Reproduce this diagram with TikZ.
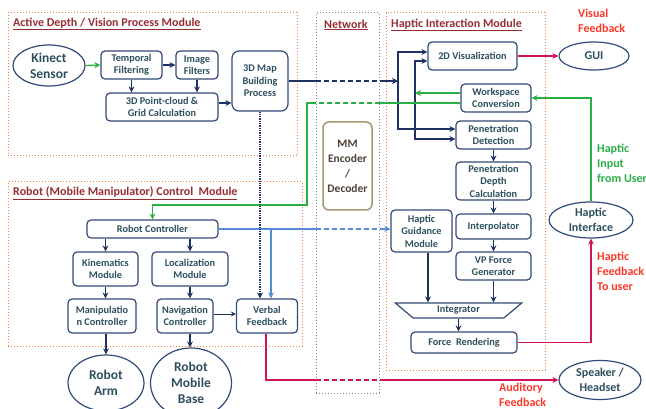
\documentclass[tikz,border=0pt]{standalone}
\usepackage{fontspec}
\setmainfont{Carlito}
\usepackage{tikz}
\usetikzlibrary{arrows.meta,positioning,shapes.geometric}
\definecolor{boxblue}{RGB}{50,74,118}
\definecolor{lineblue}{RGB}{30,50,100}
\definecolor{boxtext}{RGB}{45,80,95}
\definecolor{frameorange}{RGB}{238,128,60}
\definecolor{titlered}{RGB}{150,45,50}
\definecolor{netgrey}{RGB}{135,135,135}
\definecolor{mmolive}{RGB}{165,152,110}
\definecolor{mmtext}{RGB}{75,65,55}
\definecolor{linkgreen}{RGB}{40,175,70}
\definecolor{linkblue}{RGB}{85,140,215}
\definecolor{linkred}{RGB}{205,20,90}
\definecolor{labelred}{RGB}{250,55,40}
\tikzset{
  hbox/.style={rectangle, rounded corners=4pt, draw=boxblue, line width=1.2pt, fill=white,
               text=boxtext, font=\bfseries\fontsize{10.3}{12.5}\selectfont, align=center, inner sep=1pt},
  hell/.style={ellipse, draw=boxblue, line width=1.2pt, fill=white, text=boxtext,
               font=\bfseries\fontsize{12}{15}\selectfont, align=center, inner sep=0pt},
  bigell/.style={hell, font=\bfseries\fontsize{13.5}{16}\selectfont},
  mmbox/.style={rectangle, rounded corners=6pt, draw=mmolive, line width=1.5pt, fill=white,
                text=mmtext, font=\bfseries\fontsize{11.5}{15}\selectfont, align=center},
  integbox/.style={trapezium, trapezium stretches=true, trapezium angle=45, shape border rotate=180,
                   draw=boxblue, line width=1.2pt, fill=white, text=boxtext,
                   font=\bfseries\fontsize{10.3}{12.5}\selectfont, inner sep=0pt},
  modframe/.style={rectangle, draw=frameorange, line width=1pt, dotted},
  netframe/.style={rectangle, draw=netgrey, line width=1pt, dotted},
  modtitle/.style={anchor=west, text=titlered, font=\bfseries\fontsize{12}{14}\selectfont, inner sep=0pt},
  fblabel/.style={anchor=north west, align=left, font=\bfseries\fontsize{12}{15}\selectfont, inner sep=0pt},
  nline/.style={line width=1.3pt, lineblue},
  narr/.style={nline, -{Stealth[length=6pt, width=6pt]}},
  nthin/.style={line width=0.8pt, lineblue, -{Stealth[length=5pt, width=5pt]}},
  ndot/.style={line width=1.3pt, lineblue, densely dotted, -{Stealth[length=6pt, width=6pt]}},
  gline/.style={line width=1.3pt, linkgreen},
  garr/.style={gline, -{Stealth[length=6pt, width=6pt]}},
  bline/.style={line width=1.3pt, linkblue},
  barr/.style={bline, -{Stealth[length=6pt, width=6pt]}},
  rline/.style={line width=1.3pt, linkred},
  rarr/.style={rline, -{Stealth[length=6pt, width=6pt]}},
}
\begin{document}
\begin{tikzpicture}[x=1pt, y=-1pt, netdash/.style={dash pattern=on 5pt off 3pt}]
  \useasboundingbox (0,0) rectangle (646,409);

  \node[modframe, minimum width=289, minimum height=143] (vision) at (152.5,84.5) {};
  \node[modframe, minimum width=294, minimum height=164] (robot) at (155,264) {};
  \node[netframe, minimum width=63, minimum height=380] (net) at (347.5,203) {};
  \node[modframe, minimum width=159, minimum height=357] (haptic) at (465.5,191.5) {};
  \node[modtitle] (visiontitle) at (13,24) {\underline{Active Depth / Vision Process Module}};
  \node[modtitle] (robottitle) at (13,193) {\underline{Robot (Mobile Manipulator) Control~~Module}};
  \node[modtitle] (nettitle) at (324,25) {\underline{Network}};
  \node[modtitle] (haptictitle) at (391,25) {\underline{Haptic Interaction Module}};

  \node[bigell, minimum width=72, minimum height=41] (kinect) at (49,65.5) {Kinect\\Sensor};
  \node[hbox, minimum width=61, minimum height=28] (temporal) at (131.5,65) {Temporal\\Filtering};
  \node[hbox, minimum width=42, minimum height=28] (imgfilt) at (197,65) {Image\\Filters};
  \node[hbox, minimum width=112, minimum height=28] (ptcloud) at (162,107) {3D Point-cloud \&\\Grid Calculation};
  \node[hbox, minimum width=56, minimum height=60, rounded corners=7pt] (map) at (260,81) {3D Map\\Building\\Process};

  \node[mmbox, minimum width=49, minimum height=88] (mm) at (347.5,166) {MM\\Encoder\\/\\Decoder};

  \node[hbox, minimum width=89, minimum height=28] (viz) at (472.5,56) {2D Visualization};
  \node[hell, minimum width=70, minimum height=28] (gui) at (594,56) {GUI};
  \node[hbox, minimum width=70, minimum height=28] (wsconv) at (496,98) {Workspace\\Conversion};
  \node[hbox, minimum width=75, minimum height=28] (pendet) at (493.5,135) {Penetration\\Detection};
  \node[hbox, minimum width=75, minimum height=38] (pendepth) at (493.5,181) {Penetration\\Depth\\Calculation};
  \node[hbox, minimum width=75, minimum height=25] (interp) at (493.5,226.5) {Interpolator};
  \node[hbox, minimum width=75, minimum height=28] (vpforce) at (493.5,266) {VP Force\\Generator};
  \node[hbox, minimum width=61, minimum height=42] (guide) at (421.5,231) {Haptic\\Guidance\\Module};
  \node[integbox, minimum width=127, minimum height=15] (integ) at (458.5,310.5) {Integrator};
  \node[hbox, minimum width=106, minimum height=21] (render) at (464,342.5) {Force~~Rendering};
  \node[hell, minimum width=84, minimum height=36] (hapif) at (591,220) {Haptic\\Interface};
  \node[hell, minimum width=82, minimum height=39] (speaker) at (600,380) {Speaker /\\Headset};

  \node[hbox, minimum width=131, minimum height=18] (robctrl) at (152.5,229) {Robot Controller};
  \node[hbox, minimum width=65, minimum height=34] (kinem) at (105.5,269) {Kinematics\\Module};
  \node[hbox, minimum width=76, minimum height=34] (local) at (190,269) {Localization\\Module};
  \node[hbox, minimum width=68, minimum height=34] (manip) at (102,316) {Manipulatio\\n Controller};
  \node[hbox, minimum width=56, minimum height=34] (navig) at (185,316) {Navigation\\Controller};
  \node[hbox, minimum width=61, minimum height=34] (verbal) at (267,316) {Verbal\\Feedback};
  \node[bigell, minimum width=76, minimum height=56] (arm) at (106,383) {Robot\\Arm};
  \node[bigell, minimum width=81, minimum height=70] (base) at (191,383) {Robot\\Mobile\\Base};

  \node[fblabel, text=labelred] (visfb) at (578,9) {Visual\\Feedback};
  \node[fblabel, text=linkgreen] (hapin) at (597,144) {Haptic\\Input\\from User};
  \node[fblabel, text=labelred] (hapfb) at (597,252) {Haptic\\Feedback\\To user};
  \node[fblabel, text=labelred] (audfb) at (499,383) {Auditory\\Feedback};

  \draw[garr] (kinect.east) -- (temporal.west);
  \draw[narr] (temporal.east) -- (imgfilt.west);
  \draw[narr] (temporal.south) -- (temporal.south |- ptcloud.north);
  \draw[narr] (imgfilt.south) -- (imgfilt.south |- ptcloud.north);
  \coordinate (pcout) at ([yshift=4pt]ptcloud.east);
  \draw[narr] (pcout) -- (pcout -| map.west);

  \coordinate (busA) at (398,81);
  \coordinate (busB) at (415,93);
  \draw[nline] (map.east) -- (map.east -| net.west);
  \draw[nline, netdash] (map.east -| net.west) -- (map.east -| net.east);
  \draw[narr] (map.east -| net.east) -- (busA);
  \draw[narr] (busA) |- ([yshift=4pt]viz.west);
  \draw[narr] (busA) |- ([yshift=6pt]pendet.west);
  \draw[narr] (busB) |- ([yshift=-5pt]viz.west);
  \draw[narr] (busB) |- ([yshift=-4pt]pendet.west);
  \draw[garr] ([yshift=5pt]wsconv.west) -- (busB);

  \coordinate (wsout) at ([yshift=-5pt]wsconv.west);
  \coordinate (gturn) at (307,205);
  \draw[gline] (wsout) -- (wsout -| net.east);
  \draw[gline, netdash] (wsout -| net.east) -- (wsout -| net.west);
  \draw[garr] (wsout -| net.west) -| (gturn) -| (robctrl.north);
  \draw[garr] (hapif.north) |- (wsconv.east);

  \draw[rarr] (viz.east) -- (gui.west);
  \draw[narr] (pendet.south) -- (pendepth.north);
  \draw[narr] (pendepth.south) -- (interp.north);
  \draw[narr] (interp.south) -- (vpforce.north);
  \draw[narr] (vpforce.south) -- (vpforce.south |- integ.north);
  \coordinate (gdown) at ([xshift=6.5pt]guide.south);
  \draw[narr] (gdown) -- (gdown |- integ.north);
  \draw[narr] (integ.south) -- (integ.south |- render.north);
  \draw[rarr] (render.east) -| (hapif.south);

  \draw[narr] (kinem.north |- robctrl.south) -- (kinem.north);
  \draw[narr] (local.north |- robctrl.south) -- (local.north);
  \draw[narr] (kinem.south) -- (kinem.south |- manip.north);
  \draw[narr] (local.south) -- (local.south |- navig.north);
  \coordinate (navout) at ([yshift=2pt]navig.east);
  \draw[nthin] (navout) -- (navout -| verbal.west);
  \draw[narr] (arm.north |- manip.south) -- (arm.north);
  \draw[narr] (local.south |- navig.south) -- (local.south |- base.north);

  \draw[bline] (robctrl.east) -- (robctrl.east -| net.west);
  \draw[bline, netdash] (robctrl.east -| net.west) -- (robctrl.east -| net.east);
  \draw[barr] (robctrl.east -| net.east) -- (robctrl.east -| guide.west);
  \coordinate (vtopR) at ([xshift=4pt]verbal.north);
  \coordinate (vtopL) at ([xshift=-7pt]verbal.north);
  \draw[barr] (vtopR |- robctrl.east) -- (vtopR);
  \draw[ndot] (map.south) -- (vtopL);

  \coordinate (vout) at ([xshift=-1pt]verbal.south);
  \draw[rline] (vout) |- (speaker.west -| net.west);
  \draw[rline, netdash] (speaker.west -| net.west) -- (speaker.west -| net.east);
  \draw[rarr] (speaker.west -| net.east) -- (speaker.west);
\end{tikzpicture}
\end{document}
